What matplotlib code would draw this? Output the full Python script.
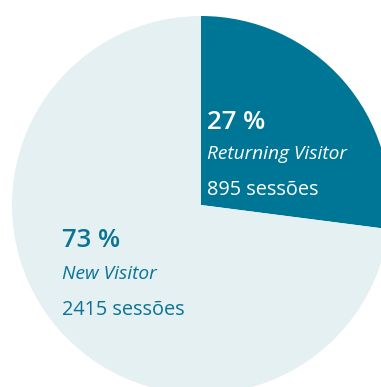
import matplotlib
matplotlib.use("Agg")
import matplotlib.pyplot as plt

# data
labels = ["Returning Visitor", "New Visitor"]
sessions = [895, 2415]
percents = [27, 73]
colors = ["#007696", "#e4f0f2"]
text_colors = ["white", "#0a7396"]

W, H = 381, 387
fig = plt.figure(figsize=(W / 100, H / 100), dpi=100)
ax = fig.add_axes([0, 0, 1, 1])

# pie in pixel coordinates (y flipped so origin is bottom)
cx, cy, r = 201, H - 205, 189
ax.pie(sessions, colors=colors, startangle=90, counterclock=False,
       center=(cx, cy), radius=r, wedgeprops=dict(linewidth=0))
ax.set_xlim(0, W)
ax.set_ylim(0, H)
ax.set_aspect("auto")
ax.axis("off")

font = "Open Sans"
# label blocks: x, baselines of the three lines (pixels from top)
blocks = [(207, [129, 159, 195]), (62, [247, 279, 315])]
for i, (x, ys) in enumerate(blocks):
    c = text_colors[i]
    ax.text(x, H - ys[0], f"{percents[i]} %", color=c, fontsize=18.5,
            fontweight=600, family=font, va="baseline")
    ax.text(x, H - ys[1], labels[i], color=c, fontsize=13.8,
            style="italic", family=font, va="baseline")
    ax.text(x, H - ys[2], f"{sessions[i]} sessões", color=c, fontsize=14.3,
            family=font, va="baseline")

fig.savefig("out.png", dpi=100)
